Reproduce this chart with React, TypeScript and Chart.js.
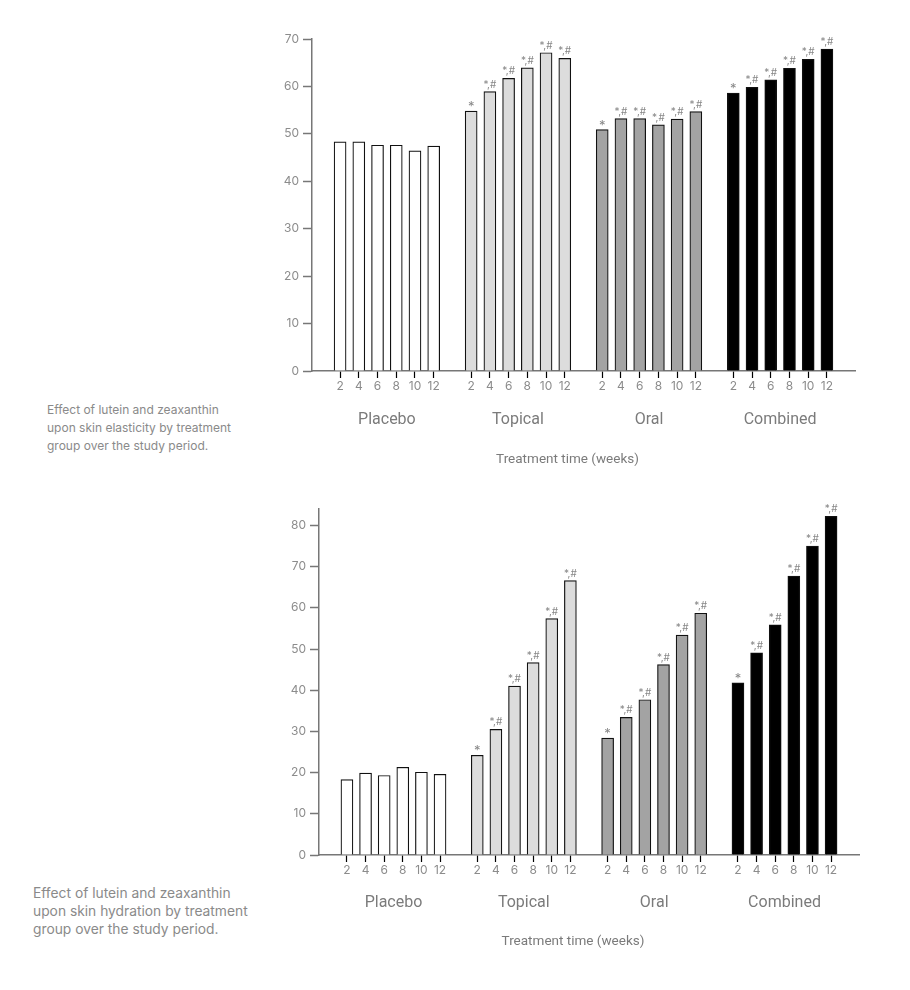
import React, { useEffect, useRef } from "react";
import { Chart, registerables } from "chart.js";

Chart.register(...registerables);

// ---------- data ----------
const groups = ["Placebo", "Topical", "Oral", "Combined"];
const weeks = ["2", "4", "6", "8", "10", "12"];
const groupColors = ["#ffffff", "#dcdcdc", "#a3a3a3", "#000000"];

const elasticityPlacebo = [48.3, 48.3, 47.6, 47.6, 46.4, 47.4];
const elasticityTopical = [54.8, 58.9, 61.7, 63.9, 67.1, 65.9];
const elasticityOral = [50.9, 53.2, 53.2, 51.9, 53.1, 54.7];
const elasticityCombined = [58.6, 59.8, 61.4, 63.8, 65.7, 67.9];

const hydrationPlacebo = [18.3, 19.9, 19.3, 21.3, 20.1, 19.6];
const hydrationTopical = [24.2, 30.5, 41.0, 46.7, 57.4, 66.6];
const hydrationOral = [28.4, 33.4, 37.7, 46.2, 53.4, 58.7];
const hydrationCombined = [41.8, 49.1, 55.9, 67.7, 75.0, 82.2];

const marksPlacebo = ["", "", "", "", "", ""];
const marksTreatment = ["*", "*,#", "*,#", "*,#", "*,#", "*,#"];

const elasticityYTicks = [0, 10, 20, 30, 40, 50, 60, 70];
const hydrationYTicks = [0, 10, 20, 30, 40, 50, 60, 70, 80];

const xTitle = "Treatment time (weeks)";
const captionElasticity = [
  "Effect of lutein and zeaxanthin",
  "upon skin elasticity by treatment",
  "group over the study period.",
];
const captionHydration = [
  "Effect of lutein and zeaxanthin",
  "upon skin hydration by treatment",
  "group over the study period.",
];

// ---------- component ----------
type PanelProps = {
  series: number[][];
  marks: string[][];
  yTicks: number[];
  yMax: number;
  width: number;
  height: number;
  padRight: number;
  groupDy: number;
  titleDy: number;
};

function BarPanel(p: PanelProps) {
  const ref = useRef<HTMLCanvasElement | null>(null);
  useEffect(() => {
    if (!ref.current) return;
    // build categories with spacer slots between groups
    const labels: string[] = [""];
    const values: (number | null)[] = [null];
    const colors: string[] = ["#fff"];
    const marks: string[] = [""];
    const groupIdx: number[][] = [];
    p.series.forEach((vals, g) => {
      const idx: number[] = [];
      vals.forEach((v, i) => {
        idx.push(labels.length);
        labels.push(weeks[i]);
        values.push(v);
        colors.push(groupColors[g]);
        marks.push(p.marks[g][i]);
      });
      groupIdx.push(idx);
      labels.push("");
      values.push(null);
      colors.push("#fff");
      marks.push("");
    });

    const annot = {
      id: "annot",
      afterDraw(chart: any) {
        const ctx = chart.ctx;
        const meta = chart.getDatasetMeta(0);
        const xs = chart.scales.x;
        const area = chart.chartArea;
        ctx.save();
        ctx.fillStyle = "#888888";
        ctx.textAlign = "center";
        ctx.textBaseline = "alphabetic";
        meta.data.forEach((bar: any, i: number) => {
          const t = marks[i];
          if (!t || values[i] == null) return;
          ctx.font = t === "*" ? "13px Inter" : "10px Inter";
          ctx.fillText(t, bar.x, bar.y - (t === "*" ? 0 : 4));
        });
        ctx.fillStyle = "#7b7b7b";
        ctx.textBaseline = "middle";
        ctx.font = "16px Roboto";
        groupIdx.forEach((idx, g) => {
          const cx =
            (xs.getPixelForValue(idx[0]) + xs.getPixelForValue(idx[idx.length - 1])) / 2;
          ctx.fillText(groups[g], cx, area.bottom + p.groupDy);
        });
        ctx.font = "13.5px Roboto";
        ctx.fillText(xTitle, (area.left + area.right) / 2 - 16, area.bottom + p.titleDy);
        ctx.restore();
      },
    };

    const chart = new Chart(ref.current, {
      type: "bar",
      data: {
        labels,
        datasets: [
          {
            data: values as any,
            backgroundColor: colors,
            borderColor: "#111",
            borderWidth: 1.2,
            barThickness: 12,
          },
        ],
      },
      options: {
        responsive: false,
        animation: false,
        events: [],
        layout: { padding: { top: 24, right: p.padRight, left: 0, bottom: 0 } },
        plugins: { legend: { display: false }, tooltip: { enabled: false } },
        scales: {
          x: {
            type: "category",
            offset: true,
            afterFit: (s: any) => {
              s.height = 114;
            },
            grid: {
              offset: false,
              drawOnChartArea: false,
              drawTicks: true,
              tickLength: 7,
              tickWidth: 1.2,
              tickColor: (c: any) => (labels[c.index] ? "#000" : "rgba(0,0,0,0)"),
            },
            border: { color: "#777", width: 1.5 },
            ticks: {
              autoSkip: false,
              maxRotation: 0,
              color: "#8c8c8c",
              font: { family: "Inter", size: 12 },
              padding: 1,
            },
          },
          y: {
            min: 0,
            max: p.yMax,
            afterFit: (s: any) => {
              s.width = 62;
            },
            afterBuildTicks: (s: any) => {
              s.ticks = p.yTicks.map((v) => ({ value: v }));
            },
            grid: {
              drawOnChartArea: false,
              tickLength: 9,
              tickWidth: 1.5,
              tickColor: "#777",
            },
            border: { color: "#777", width: 1.5 },
            ticks: {
              color: "#8c8c8c",
              font: { family: "Inter", size: 12 },
              padding: 4,
            },
          },
        },
      } as any,
      plugins: [annot],
    });
    return () => chart.destroy();
  }, []);
  return (
    <canvas
      ref={ref}
      width={p.width}
      height={p.height}
      style={{ width: p.width, height: p.height, display: "block" }}
    />
  );
}

function Caption({ lines, size }: { lines: string[]; size: number }) {
  return (
    <div
      style={{
        fontFamily: "Inter, 'Open Sans', sans-serif",
        fontSize: size,
        lineHeight: "18px",
        color: "#8a8a8a",
        whiteSpace: "nowrap",
      }}
    >
      {lines.map((l, i) => (
        <div key={i}>{l}</div>
      ))}
    </div>
  );
}

export default function App() {
  return (
    <div style={{ position: "relative", width: 894, height: 970, background: "#fff" }}>
      <div style={{ position: "absolute", left: 242, top: 7 }}>
        <BarPanel
          series={[elasticityPlacebo, elasticityTopical, elasticityOral, elasticityCombined]}
          marks={[marksPlacebo, marksTreatment, marksTreatment, marksTreatment]}
          yTicks={elasticityYTicks}
          yMax={70}
          width={640}
          height={470}
          padRight={35}
          groupDy={49}
          titleDy={89}
        />
      </div>
      <div style={{ position: "absolute", left: 39, top: 393 }}>
        <Caption lines={captionElasticity} size={12} />
      </div>
      <div style={{ position: "absolute", left: 249, top: 477 }}>
        <BarPanel
          series={[hydrationPlacebo, hydrationTopical, hydrationOral, hydrationCombined]}
          marks={[marksPlacebo, marksTreatment, marksTreatment, marksTreatment]}
          yTicks={hydrationYTicks}
          yMax={84}
          width={640}
          height={484}
          padRight={38}
          groupDy={48}
          titleDy={87}
        />
      </div>
      <div style={{ position: "absolute", left: 25, top: 876 }}>
        <Caption lines={captionHydration} size={13.8} />
      </div>
    </div>
  );
}
